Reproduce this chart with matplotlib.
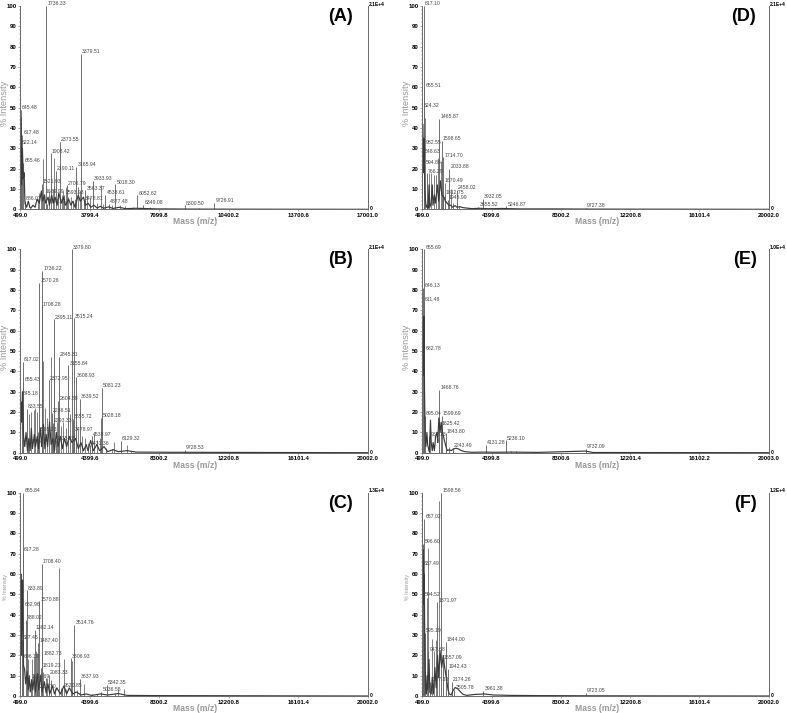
import matplotlib
matplotlib.use("Agg")
import matplotlib.pyplot as plt
from matplotlib.ticker import FixedLocator

# Panel A
a_labels = ["1736.33", "3379.51", "645.48", "617.48", "622.14", "655.46", "1908.42", "2373.55", "2190.11",
            "3165.94", "1521.93", "1689.99", "2706.79", "2593.93", "3933.93", "3563.37", "3478.81", "4538.61",
            "5018.30", "4877.48", "6052.62", "6349.08", "8300.50", "9726.91", "886.07", "1651.73"]
a_mz = [1736, 3379, 515, 600, 520, 640, 1940, 2373, 2190, 3165, 1520, 1640, 2706, 2593, 3933, 3587, 3520, 4538,
        5018, 4700, 6050, 6345, 8300, 9720, 700, 1750]
a_int = [100, 76.5, 49, 36.5, 32, 23, 27.5, 33, 19, 21, 12.5, 7.5, 11.8, 7, 14, 9.3, 4.2, 7, 12.3, 2.5, 6.8, 2.2,
         2, 3, 4.2, 2.8]
a_stick_mz = [1592, 2115, 1400, 2542, 2670, 2906, 3000, 3335, 3680, 3810, 4332, 1330, 1480, 1860, 2040, 2280, 2460,
              2780, 3090, 3250, 4150, 4420, 4850, 5250, 5480, 5850, 6650, 7350, 7800, 9000]
a_stick_int = [24.5, 25, 8, 9, 11, 6, 4, 9, 7, 6, 12, 5, 9, 9, 10, 6, 7, 6, 5, 11, 3, 2.5, 2, 2, 1.5, 1, 1, 0.8, 0.6, 0.5]
a_trace_mz = [499, 520, 560, 600, 640, 680, 720, 800, 880, 950, 1000, 1100, 1200, 1300, 1400, 1500, 1560, 1650, 1700,
              1820, 1880, 1990, 2060, 2150, 2250, 2330, 2450, 2550, 2650, 2800, 2900, 3000, 3100, 3250, 3350, 3500,
              3600, 3720, 3850, 4000, 4150, 4300, 4450, 4700, 4900, 5200, 5500, 6000, 7000, 9000, 12000, 17001]
a_trace_int = [0, 45, 12, 30, 15, 18, 3, 1, 4, 1, 0.5, 2, 1, 5, 3, 9, 4, 7, 3, 6, 2, 7, 3, 6, 2, 8, 3, 6, 2, 5, 2, 4,
               1, 7, 4, 6, 2, 3, 1, 2, 0.6, 1.5, 0.5, 1.2, 0.4, 1, 0.3, 0.5, 0.2, 0.1, 0.05, 0]

# Panel B
b_labels = ["3379.80", "1736.22", "1570.26", "1708.28", "2395.11", "3515.24", "617.02", "655.43", "645.18", "833.55",
            "2845.31", "3155.84", "3608.93", "2372.95", "2604.88", "3639.52", "5081.23", "5028.18", "2236.51",
            "2293.33", "3655.72", "3478.97", "4538.97", "1585.23", "2435.28", "4431.36", "6129.32", "874.52",
            "9728.53"]
b_mz = [3379, 1736, 1570, 1708, 2395, 3515, 630, 668, 575, 855, 2670, 3195, 3625, 2090, 2633, 3850, 5090, 5050, 2260,
        2315, 3438, 3490, 4540, 1470, 2500, 4430, 6130, 930, 9728]
b_int = [100, 89.5, 83.5, 72, 65.5, 66, 44.5, 35, 28, 21.5, 47, 43, 37, 35.5, 25.5, 26.5, 32, 17, 19.5, 14.5, 16.5,
         10.5, 8, 10.3, 6, 3.6, 5.8, 4.2, 1.5]
b_stick_mz = [2200, 1750, 2410, 1100, 1000, 1250, 1330, 1420, 1890, 2000, 2540, 2770, 2890, 3060, 3300, 3760, 3960,
              4130, 4280, 4650, 4780, 4950, 5330, 5620, 5750, 6480, 6700]
b_stick_int = [47, 45, 42, 20, 19, 21, 22, 20, 22, 17, 15, 13, 15, 12, 19, 11, 8, 7, 5, 9, 6, 7, 2.5, 2, 5.5, 4, 1]
b_trace_mz = [499, 530, 580, 620, 680, 750, 820, 900, 980, 1050, 1120, 1180, 1290, 1350, 1450, 1520, 1640, 1700, 1800,
              1880, 1950, 2030, 2140, 2230, 2330, 2420, 2520, 2620, 2750, 2860, 2980, 3100, 3250, 3400, 3600, 3760,
              3900, 4050, 4200, 4300, 4450, 4600, 4800, 4950, 5200, 5400, 5700, 6000, 6500, 7000, 9000, 20002]
b_trace_int = [2, 25, 15, 30, 8, 3, 10, 1, 7, 1, 12, 2, 9, 3, 8, 2, 12, 3, 14, 2, 9, 3, 15, 4, 7, 1, 10, 3, 8, 2, 7, 3,
               8, 5, 7, 2, 5, 1, 4, 1, 6, 1, 4, 1, 3, 0.5, 1.5, 0.5, 1, 0.3, 0.2, 0]

# Panel C
c_labels = ["655.84", "617.28", "1708.40", "833.89", "1570.88", "682.96", "788.02", "1382.14", "537.45", "1487.40",
            "3514.76", "696.19", "1882.73", "3306.93", "1819.23", "2083.33", "1163.69", "3637.93", "1363.70",
            "2620.85", "5342.35", "5036.55"]
c_mz = [668, 630, 1708, 855, 1570, 668, 817, 1323, 575, 1510, 3532, 630, 1735, 3326, 1680, 2109, 1098, 3850, 1417,
        2858, 5347, 5048]
c_int = [100, 71, 65, 52, 46.5, 44, 37.5, 32.5, 27.5, 26, 35, 18.5, 20, 18.5, 14, 10.5, 8.5, 8.5, 3.5, 4, 5.5, 2]
c_stick_mz = [2670, 2970, 3400, 4070, 6320, 1160, 950, 1450, 1260, 1370, 1800, 1930, 2000, 2230, 2430, 2780, 3090,
              3680, 4530, 4800, 5820, 5990]
c_stick_int = [63, 18, 17, 6, 3.2, 18, 18, 21, 19, 22, 12, 9, 9, 8, 4, 4, 3.5, 3, 1, 1, 1.5, 3.4]
c_trace_mz = [499, 530, 570, 620, 680, 740, 800, 880, 950, 1000, 1060, 1140, 1200, 1290, 1350, 1460, 1530, 1640, 1720,
              1850, 1950, 2050, 2150, 2300, 2420, 2550, 2750, 2950, 3100, 3250, 3450, 3650, 3900, 4200, 4500, 5000,
              5400, 6000, 6500, 8000, 20002]
c_trace_int = [5, 60, 20, 57, 15, 13, 6, 12, 3, 10, 2, 8, 3, 10, 2, 11, 3, 10, 2, 7, 1.5, 6, 1, 5, 1, 4, 1, 5, 1, 4, 1,
               2, 0.5, 1, 0.3, 1, 0.5, 1.2, 0.3, 0.2, 0]

# Panel D
d_labels = ["617.10", "655.51", "524.32", "1465.87", "1598.65", "982.55", "548.63", "1714.70", "594.86", "2033.88",
            "766.29", "1670.49", "2458.02", "1812.75", "1945.99", "3932.05", "3655.52", "5246.87", "9727.38"]
d_mz = [593, 612, 510, 1456, 1588, 612, 593, 1680, 612, 2020, 743, 1682, 2432, 1775, 1925, 3900, 3652, 5229, 9715]
d_int = [100, 60, 50, 44.5, 33.5, 32, 27.5, 25.5, 22, 20, 17.5, 13, 9.5, 7.2, 4.5, 5.2, 1.2, 1.5, 0.8]
d_stick_mz = [1400, 1530, 1010, 870, 1130, 1250, 1750, 2120, 660, 780, 2240, 2560, 3050]
d_stick_int = [25, 24, 18, 18, 17, 17, 13, 10, 45, 18, 3, 1.5, 0.8]
d_trace_mz = [499, 520, 560, 590, 640, 680, 720, 780, 830, 880, 920, 1000, 1060, 1100, 1180, 1240, 1350, 1420, 1520,
              1600, 1720, 1800, 1900, 2000, 2100, 2200, 2350, 2450, 2600, 2800, 3000, 3300, 3700, 4200, 5000, 6000,
              8000, 10000, 20002]
d_trace_int = [15, 42, 18, 35, 10, 4, 1, 2, 0.5, 12, 1, 3, 12, 2, 7, 3, 12, 4, 14, 7, 6, 4, 3, 2, 2, 1, 1.8, 1, 1.3,
               0.8, 0.6, 0.3, 0.5, 0.3, 0.4, 0.2, 0.2, 0.1, 0]

# Panel E
e_labels = ["655.69", "646.13", "611.48", "682.78", "1468.76", "895.04", "1599.69", "1625.42", "1843.80", "2243.49",
            "4131.28", "5236.10", "9732.09", "968.13"]
e_mz = [612, 555, 593, 612, 1456, 650, 1588, 1531, 1813, 2207, 4103, 5210, 9715, 893]
e_int = [100, 81, 74, 50, 31, 18, 18, 13.5, 9.5, 2.5, 4, 6, 1.8, 8]
e_stick_mz = [960, 1430, 2000, 5500, 5800]
e_stick_int = [16, 17, 3, 1, 0.8]
e_trace_mz = [499, 525, 555, 590, 625, 660, 700, 760, 800, 850, 900, 960, 1000, 1060, 1110, 1180, 1250, 1330, 1370,
              1430, 1500, 1560, 1640, 1720, 1800, 1900, 2020, 2120, 2250, 2400, 2550, 2700, 2900, 3300, 4000, 4500,
              5500, 7000, 9700, 10100, 20003]
e_trace_int = [8, 65, 38, 67, 30, 8, 3, 10, 4, 2, 0.5, 16, 5, 1, 5, 1, 8, 10, 5, 17, 10, 15, 10, 7, 4, 1, 1.5, 1, 1.8,
               2.2, 1.8, 1, 0.5, 0.2, 0.3, 0.2, 0.3, 0.15, 0.8, 0.1, 0]

# Panel F
f_labels = ["1598.56", "657.02", "596.60", "637.49", "594.52", "1371.97", "595.19", "1844.00", "947.68", "1557.09",
            "1942.43", "2174.26", "3961.38", "9723.05", "1127.33", "2505.78"]
f_mz = [1569, 612, 555, 518, 593, 1344, 650, 1813, 837, 1644, 1925, 2170, 3934, 9715, 930, 2300]
f_int = [100, 87, 75, 64, 49, 46, 31, 26.5, 22, 18, 13.5, 7, 2.5, 1.5, 7, 3]
f_stick_mz = [1456, 837, 780, 1025, 1250, 1175, 510]
f_stick_int = [96, 73, 48, 28, 27.5, 22, 100]
f_trace_mz = [499, 530, 570, 610, 640, 680, 720, 770, 800, 880, 920, 1000, 1060, 1120, 1210, 1280, 1360, 1420, 1500,
              1590, 1680, 1760, 1850, 1950, 2020, 2120, 2220, 2350, 2500, 2650, 2800, 3000, 3500, 4000, 4500, 5500,
              7000, 10000, 20002]
f_trace_int = [20, 72, 45, 60, 22, 5, 1, 10, 3, 18, 2, 1, 9, 1, 14, 4, 20, 9, 22, 14, 20, 14, 9, 3, 1, 0.5, 2.5, 4.2,
               3.5, 2, 0.8, 0.3, 0.8, 1, 0.5, 0.3, 0.2, 0.1, 0]

a_ticks = ["499.0", "3799.4", "7099.8", "10400.2", "13700.6", "17001.0"]
b_ticks = ["499.0", "4399.6", "8300.2", "12200.8", "16101.4", "20002.0"]
e_ticks = ["499.0", "4399.8", "8300.6", "12201.4", "16102.2", "20003.0"]
y_ticks = [0, 10, 20, 30, 40, 50, 60, 70, 80, 90, 100]
scales = {"A": "2.1E+4", "B": "2.1E+4", "C": "1.3E+4", "D": "2.1E+4", "E": "1.0E+4", "F": "1.2E+4"}

W, H = 787, 713
GREY = "#6a6a6a"
plt.rcParams["font.family"] = ["Liberation Sans", "DejaVu Sans"]


def put_text(fig, x, y, s, **kw):
    # x, y in image pixels, origin top left
    fig.text(x / W, 1 - y / H, s, **kw)


def draw_panel(fig, name, box, letter_x, ticks, ylabel_size, labels, mz, inten, stick_mz, stick_int, trace_mz, trace_int):
    left, top, right, bottom = box
    ax = fig.add_axes([left / W, 1 - bottom / H, (right - left) / W, (bottom - top) / H])
    ticks_num = [float(t) for t in ticks]
    ax.set_xlim(ticks_num[0], ticks_num[-1])
    ax.set_ylim(0, 100)

    ax.vlines(stick_mz, 0, stick_int, color="#808080", lw=0.7)
    ax.vlines(mz, 0, inten, color="#666666", lw=0.65)
    ax.plot(trace_mz, trace_int, color="#3a3a3a", lw=0.85)

    for s, x, y in zip(labels, mz, inten):
        ax.annotate(s, (x, y), xytext=(0.8, -0.2), textcoords="offset points", fontsize=3.7, color="#444444",
                    va="bottom", ha="left", annotation_clip=False)

    ax.spines["top"].set_visible(False)
    for side in ["left", "right", "bottom"]:
        ax.spines[side].set_color(GREY)
        ax.spines[side].set_linewidth(0.7)

    ax.set_xticks(ticks_num)
    ax.set_xticklabels(ticks, fontsize=4.3, fontweight="bold", color="black")
    ax.set_yticks(y_ticks)
    ax.set_yticklabels([str(v) for v in y_ticks], fontsize=4.3, fontweight="bold", color="black")
    step = (ticks_num[-1] - ticks_num[0]) / 25
    ax.xaxis.set_minor_locator(FixedLocator([ticks_num[0] + i * step for i in range(26)]))
    ax.yaxis.set_minor_locator(FixedLocator([i * 2 for i in range(51)]))
    ax.tick_params(axis="both", which="major", length=1.5, width=0.4, color=GREY, pad=1.2)
    ax.tick_params(axis="both", which="minor", length=0.8, width=0.3, color=GREY)

    put_text(fig, (left + right) / 2 + 1.5, bottom + 12.5, "Mass (m/z)", fontsize=6.2, fontweight="bold",
             color="#999999", ha="center", va="center")
    put_text(fig, left - 16 + (1 if ylabel_size < 5 else 0), (top + bottom) / 2 - 4 - (3 if ylabel_size < 5 else 0),
             "% Intensity", fontsize=ylabel_size, color="#999999", rotation=90, ha="center", va="center")
    put_text(fig, letter_x, top + 10.5, "(" + name + ")", fontsize=13, fontweight="bold", color="black",
             ha="center", va="center")
    put_text(fig, right + 1.5, top - 1.7, scales[name], fontsize=3.6, fontweight="bold", color="black",
             ha="left", va="center")
    put_text(fig, right + 2.5, bottom - 0.5, "0", fontsize=3.6, fontweight="bold", color="black",
             ha="left", va="center")


def main() -> None:
    fig = plt.figure(figsize=(W / 100, H / 100), dpi=100)

    draw_panel(fig, "A", (20.3, 6, 367.7, 209.3), 340.7, a_ticks, 6.6, a_labels, a_mz, a_int,
               a_stick_mz, a_stick_int, a_trace_mz, a_trace_int)
    draw_panel(fig, "B", (20.3, 249.3, 367.7, 452.7), 340.7, b_ticks, 6.6, b_labels, b_mz, b_int,
               b_stick_mz, b_stick_int, b_trace_mz, b_trace_int)
    draw_panel(fig, "C", (20.3, 492.7, 367.7, 696), 340.7, b_ticks, 3.8, c_labels, c_mz, c_int,
               c_stick_mz, c_stick_int, c_trace_mz, c_trace_int)
    draw_panel(fig, "D", (422.3, 6, 768.7, 209.3), 743.3, b_ticks, 6.6, d_labels, d_mz, d_int,
               d_stick_mz, d_stick_int, d_trace_mz, d_trace_int)
    draw_panel(fig, "E", (422.3, 249.3, 768.7, 452.7), 745, e_ticks, 6.6, e_labels, e_mz, e_int,
               e_stick_mz, e_stick_int, e_trace_mz, e_trace_int)
    draw_panel(fig, "F", (422.3, 492.7, 768.7, 696), 745.7, b_ticks, 3.8, f_labels, f_mz, f_int,
               f_stick_mz, f_stick_int, f_trace_mz, f_trace_int)

    fig.savefig("out.png", dpi=100)
    plt.close(fig)


if __name__ == "__main__":
    main()
